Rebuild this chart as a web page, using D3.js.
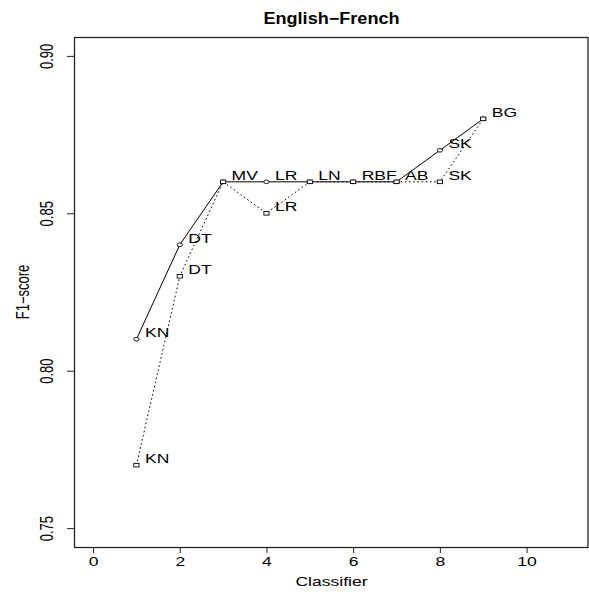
<!DOCTYPE html>
<html>
<head>
<meta charset="utf-8">
<script src="https://cdn.jsdelivr.net/npm/d3@7"></script>
<style>
  body { margin: 0; background: #fff; }
  text { font-family: "Liberation Sans", Arial, sans-serif; fill: #000; }
</style>
</head>
<body>
<script>
const width = 589;
const height = 592;

// classifier codes and their position on the x axis
const classifiers = ['KN', 'DT', 'MV', 'LR', 'LN', 'RBF', 'AB', 'SK', 'BG'];
const positions = [1, 2, 3, 4, 5, 6, 7, 8, 9];
// two runs: solid line with circles, dotted line with squares
const scoresA = [0.81, 0.84, 0.86, 0.86, 0.86, 0.86, 0.86, 0.87, 0.88];
const scoresB = [0.77, 0.83, 0.86, 0.85, 0.86, 0.86, 0.86, 0.86, 0.88];
const xTicks = [0, 2, 4, 6, 8, 10];
const yTicks = [0.75, 0.80, 0.85, 0.90];

// the picture is stretched sideways, so text and markers are too
const sx = 1.35;

const svg = d3.select('body').append('svg')
  .attr('width', width)
  .attr('height', height);

const plotLeft = 74, plotRight = 589, plotTop = 37, plotBottom = 547;

// R style ranges: xlim 0..11, ylim 0.75..0.90, each padded 4%
const x = d3.scaleLinear().domain([-0.44, 11.44]).range([plotLeft, plotRight]);
const y = d3.scaleLinear().domain([0.744, 0.906]).range([plotBottom, plotTop]);

// frame
svg.append('rect')
  .attr('x', plotLeft + 0.5)
  .attr('y', plotTop + 0.5)
  .attr('width', plotRight - plotLeft - 1.5)
  .attr('height', plotBottom - plotTop)
  .attr('fill', 'none')
  .attr('stroke', '#222')
  .attr('stroke-width', 1.3);

// x axis
const xAxis = svg.append('g')
  .attr('transform', `translate(0, ${plotBottom})`)
  .call(d3.axisBottom(x).tickValues(xTicks).tickSize(6).tickSizeOuter(0));
xAxis.select('.domain').remove();
xAxis.selectAll('line').attr('stroke', '#222');
xAxis.selectAll('text')
  .attr('y', 19)
  .attr('dy', null)
  .attr('font-size', 13)
  .attr('fill', '#000')
  .attr('transform', `scale(${sx}, 1)`);

// y axis
const yAxis = svg.append('g')
  .attr('transform', `translate(${plotLeft}, 0)`)
  .call(d3.axisLeft(y).tickValues(yTicks).tickSize(7).tickFormat(d3.format('.2f')));
yAxis.select('.domain').remove();
yAxis.selectAll('line').attr('stroke', '#222');
yAxis.selectAll('text')
  .attr('x', 0)
  .attr('dy', null)
  .attr('font-size', 13)
  .attr('fill', '#000')
  .attr('text-anchor', 'middle')
  .attr('transform', `translate(-21, 0) scale(${sx}, 1) rotate(-90)`);

// titles
svg.append('text')
  .attr('transform', `translate(${(plotLeft + plotRight) / 2}, 24) scale(1.16, 1)`)
  .attr('text-anchor', 'middle')
  .attr('font-size', 15.6)
  .attr('font-weight', 'bold')
  .text('English−French');

svg.append('text')
  .attr('transform', `translate(${(plotLeft + plotRight) / 2}, 586) scale(${sx}, 1)`)
  .attr('text-anchor', 'middle')
  .attr('font-size', 13)
  .text('Classifier');

svg.append('text')
  .attr('transform', `translate(28.5, ${(plotTop + plotBottom) / 2}) scale(${sx}, 1) rotate(-90)`)
  .attr('text-anchor', 'middle')
  .attr('font-size', 13)
  .text('F1−score');

const seriesA = positions.map((p, i) => ({ x: p, y: scoresA[i], name: classifiers[i] }));
const seriesB = positions.map((p, i) => ({ x: p, y: scoresB[i], name: classifiers[i] }));

const line = d3.line().x(d => x(d.x)).y(d => y(d.y));

svg.append('path')
  .datum(seriesB)
  .attr('d', line)
  .attr('fill', 'none')
  .attr('stroke', '#000')
  .attr('stroke-width', 1)
  .attr('stroke-dasharray', '1.6,2.6');

svg.append('path')
  .datum(seriesA)
  .attr('d', line)
  .attr('fill', 'none')
  .attr('stroke', '#000')
  .attr('stroke-width', 1);

// markers
svg.append('g').selectAll('ellipse')
  .data(seriesA)
  .enter().append('ellipse')
    .attr('cx', d => x(d.x))
    .attr('cy', d => y(d.y))
    .attr('rx', 2.7)
    .attr('ry', 1.8)
    .attr('fill', '#fff')
    .attr('stroke', '#000')
    .attr('stroke-width', 0.9);

svg.append('g').selectAll('rect')
  .data(seriesB)
  .enter().append('rect')
    .attr('x', d => x(d.x) - 2.6)
    .attr('y', d => y(d.y) - 1.8)
    .attr('width', 5.2)
    .attr('height', 3.6)
    .attr('fill', '#fff')
    .attr('stroke', '#000')
    .attr('stroke-width', 0.9);

// point labels; second run only where it differs, so shared labels are not drawn twice
const labelsB = seriesB.filter((d, i) => d.y !== seriesA[i].y);
[seriesA, labelsB].forEach(set => {
  svg.append('g').selectAll('text')
    .data(set)
    .enter().append('text')
      .attr('transform', d => `translate(${x(d.x) + 8.5}, ${y(d.y) - 2}) scale(${sx}, 1)`)
      .attr('font-size', 13)
      .text(d => d.name);
});
</script>
</body>
</html>
